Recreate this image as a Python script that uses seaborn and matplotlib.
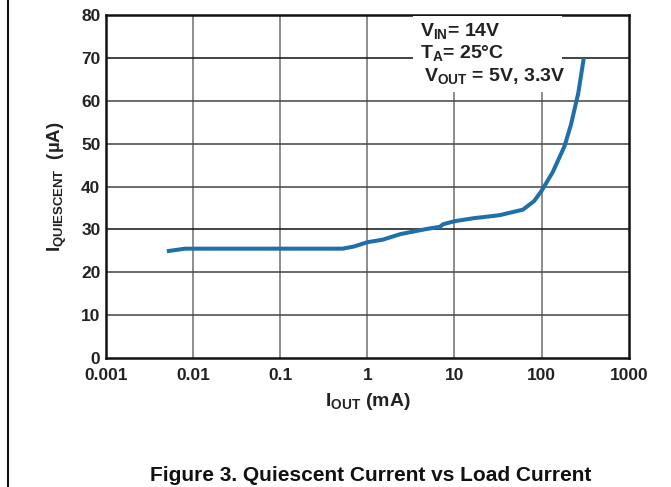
import matplotlib
matplotlib.use("Agg")
import matplotlib.pyplot as plt
from matplotlib.lines import Line2D
from matplotlib.patches import Rectangle
import numpy as np
import pandas as pd
import seaborn as sns

# Quiescent current vs load current (VIN = 14V, TA = 25°C)
i_out_ma = [0.005, 0.0081, 0.02, 0.1, 0.3, 0.52, 0.7, 1.0, 1.5, 2.4, 4.8,
            6.8, 7.4, 10, 16.5, 32.7, 61, 82, 100, 134.5, 183, 217, 263, 305]
i_q_ua = [24.9, 25.5, 25.5, 25.5, 25.5, 25.5, 26.0, 27.0, 27.6, 28.9, 30.1,
          30.6, 31.2, 31.9, 32.6, 33.3, 34.6, 36.6, 39.0, 43.4, 49.4, 54.4,
          61.7, 70.0]

x_ticks = [0.001, 0.01, 0.1, 1, 10, 100, 1000]
x_tick_labels = ["0.001", "0.01", "0.1", "1", "10", "100", "1000"]
y_ticks = [0, 10, 20, 30, 40, 50, 60, 70, 80]

df = pd.DataFrame({"iout": i_out_ma, "iq": i_q_ua})

sns.set_style("white")
plt.rcParams["font.family"] = ["Liberation Sans", "DejaVu Sans"]
plt.rcParams["font.weight"] = "bold"
plt.rcParams["mathtext.fontset"] = "custom"
plt.rcParams["mathtext.rm"] = "Liberation Sans:bold"
plt.rcParams["mathtext.it"] = "Liberation Sans:bold"
plt.rcParams["mathtext.bf"] = "Liberation Sans:bold"

fig = plt.figure(figsize=(6.71, 4.87), dpi=100)
ax = fig.add_axes([0.158, 0.265, 0.779, 0.704])

ax.set_xscale("log")
sns.lineplot(data=df, x="iout", y="iq", ax=ax, color="#1f6fa8",
             linewidth=2.9, zorder=5, solid_capstyle="butt")

ax.set_xlim(0.001, 1000)
ax.set_ylim(0, 80)
ax.set_xticks(x_ticks)
ax.set_xticklabels(x_tick_labels)
ax.xaxis.set_minor_locator(matplotlib.ticker.NullLocator())
ax.set_yticks(y_ticks)

# Grid: vertical decade lines lighter, horizontal lines darker
for xv in x_ticks[1:-1]:
    ax.axvline(xv, color="#7a7a7a", lw=1.2, zorder=1)
for yv in y_ticks[1:-1]:
    c = "#111111" if yv in (30, 70) else "#444444"
    ax.axhline(yv, color=c, lw=1.1, zorder=1)

for s in ax.spines.values():
    s.set_color("#111111")
    s.set_linewidth(1.8)
    s.set_visible(True)

ax.tick_params(axis="both", length=0, labelsize=12.5, colors="#222222")
ax.tick_params(axis="x", pad=7)
ax.tick_params(axis="y", pad=4)
for lab in ax.get_xticklabels() + ax.get_yticklabels():
    lab.set_fontweight("bold")

ax.set_xlabel(r"$\mathrm{I_{OUT}}$ (mA)", fontsize=14, fontweight="bold",
              color="#222222", labelpad=6)
ax.set_ylabel(r"$\mathrm{I_{QUIESCENT}}$  (µA)", fontsize=13.5,
              fontweight="bold", color="#222222", labelpad=9)

# Conditions box
ax.add_patch(Rectangle((0.587, 0.776), 0.285, 0.22, transform=ax.transAxes,
                       facecolor="white", edgecolor="none", zorder=3))
cond_kw = dict(transform=ax.transAxes, fontsize=14, fontweight="bold",
               color="#222222", zorder=6, va="center", ha="left")
ax.text(0.600, 0.955, r"$\mathrm{V_{IN}}$= 14V", **cond_kw)
ax.text(0.600, 0.890, r"$\mathrm{T_{A}}$= 25°C", **cond_kw)
ax.text(0.609, 0.823, r"$\mathrm{V_{OUT}}$ = 5V, 3.3V", **cond_kw)

fig.text(0.553, 0.004, "Figure 3. Quiescent Current vs Load Current",
         ha="center", va="bottom", fontsize=15, fontweight="bold",
         color="#111111")

fig.add_artist(Line2D([0.012, 0.012], [0, 1], transform=fig.transFigure,
                      color="#111111", lw=1.5))

fig.savefig("out.png", dpi=100)
